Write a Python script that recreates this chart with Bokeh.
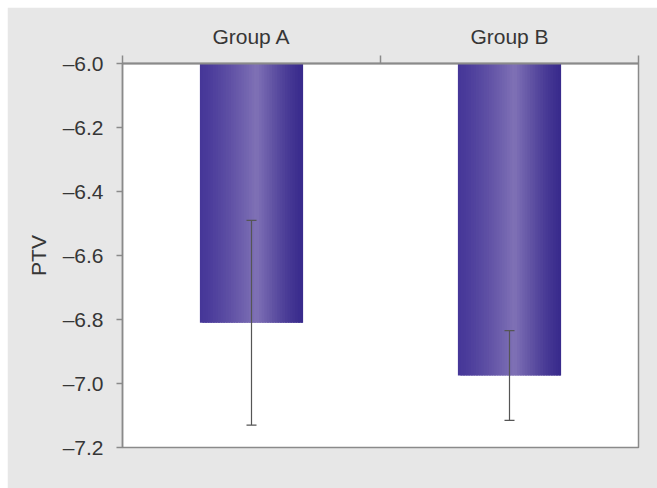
import numpy as np
from bokeh.plotting import figure
from bokeh.models import Range1d, FixedTicker, Whisker, TeeHead, ColumnDataSource
from bokeh.embed import file_html
from bokeh.resources import INLINE

# ---- data ----
groups = ["Group A", "Group B"]
means = [-6.81, -6.975]
errors = [0.32, 0.14]
baseline = -6.0
y_ticks = [-6.0, -6.2, -6.4, -6.6, -6.8, -7.0, -7.2]
y_tick_labels = ["\u20136.0", "\u20136.2", "\u20136.4", "\u20136.6", "\u20136.8", "\u20137.0", "\u20137.2"]
y_label = "PTV"

# ---- style ----
FONT = "Liberation Sans"
TXT = "#363636"
AX = "#8a8a8a"
bar_w = 0.4
n_strips = 40
left_dark = np.array([70, 55, 152])
peak = np.array([128, 114, 182])
right_dark = np.array([56, 42, 140])
peak_t = 0.55

p = figure(width=650, height=481,
           x_range=Range1d(0, len(groups)), y_range=Range1d(y_ticks[-1], y_ticks[0]),
           x_axis_location="above", output_backend="svg", toolbar_location=None,
           min_border_left=115, min_border_top=56, min_border_right=19, min_border_bottom=41)
p.margin = (7, 0, 0, 7)

p.border_fill_color = "#e7e7e7"
p.background_fill_color = "white"
p.outline_line_color = AX
p.outline_line_width = 1.5
p.xgrid.visible = False
p.ygrid.visible = False

# gradient bars drawn as vertical strips
lefts, rights, cols, bottoms, tops = [], [], [], [], []
centers = [i + 0.5 for i in range(len(groups))]
sw = bar_w / n_strips
for xc, m in zip(centers, means):
    x0 = xc - bar_w / 2
    for k in range(n_strips):
        t = (k + 0.5) / n_strips
        if t <= peak_t:
            f = (t / peak_t) ** 1.3
            c = left_dark + (peak - left_dark) * f
        else:
            f = ((1 - t) / (1 - peak_t)) ** 1.3
            c = right_dark + (peak - right_dark) * f
        lefts.append(x0 + k * sw)
        rights.append(min(x0 + (k + 1.8) * sw, x0 + bar_w))
        cols.append("#%02x%02x%02x" % tuple(int(round(v)) for v in c))
        bottoms.append(m)
        tops.append(baseline)

strip_src = ColumnDataSource(dict(left=lefts, right=rights, color=cols, bottom=bottoms, top=tops))
p.quad(left="left", right="right", top="top", bottom="bottom",
       fill_color="color", line_color=None, source=strip_src)

err_src = ColumnDataSource(dict(
    x=centers,
    upper=[m + e for m, e in zip(means, errors)],
    lower=[m - e for m, e in zip(means, errors)],
))
p.add_layout(Whisker(source=err_src, base="x", upper="upper", lower="lower", level="overlay",
                     line_color="#555555", line_width=1.2,
                     upper_head=TeeHead(size=10, line_color="#555555", line_width=1.2),
                     lower_head=TeeHead(size=10, line_color="#555555", line_width=1.2)))

# top category axis
xa = p.xaxis[0]
xa.ticker = FixedTicker(ticks=centers, minor_ticks=list(range(len(groups) + 1)))
xa.major_label_overrides = {c: g for c, g in zip(centers, groups)}
xa.major_tick_out = 0
xa.major_tick_in = 0
xa.minor_tick_out = 8
xa.minor_tick_in = 0
xa.minor_tick_line_color = AX
xa.minor_tick_line_width = 1.5
xa.axis_line_color = AX
xa.axis_line_width = 2
xa.major_label_text_font = FONT
xa.major_label_text_font_size = "21px"
xa.major_label_text_color = TXT
xa.major_label_standoff = 8

# left value axis
ya = p.yaxis[0]
ya.ticker = FixedTicker(ticks=y_ticks)
ya.major_label_overrides = {t: l for t, l in zip(y_ticks, y_tick_labels)}
ya.major_tick_out = 6
ya.major_tick_in = 0
ya.minor_tick_out = 0
ya.minor_tick_in = 0
ya.major_tick_line_color = AX
ya.major_tick_line_width = 1.5
ya.axis_line_color = AX
ya.axis_line_width = 1.5
ya.major_label_text_font = FONT
ya.major_label_text_font_size = "21px"
ya.major_label_text_color = TXT
ya.major_label_standoff = 13
ya.axis_label = y_label
ya.axis_label_text_font = FONT
ya.axis_label_text_font_size = "21px"
ya.axis_label_text_font_style = "normal"
ya.axis_label_text_color = TXT
ya.axis_label_standoff = 10

open("out.html", "w").write(file_html(p, INLINE))
